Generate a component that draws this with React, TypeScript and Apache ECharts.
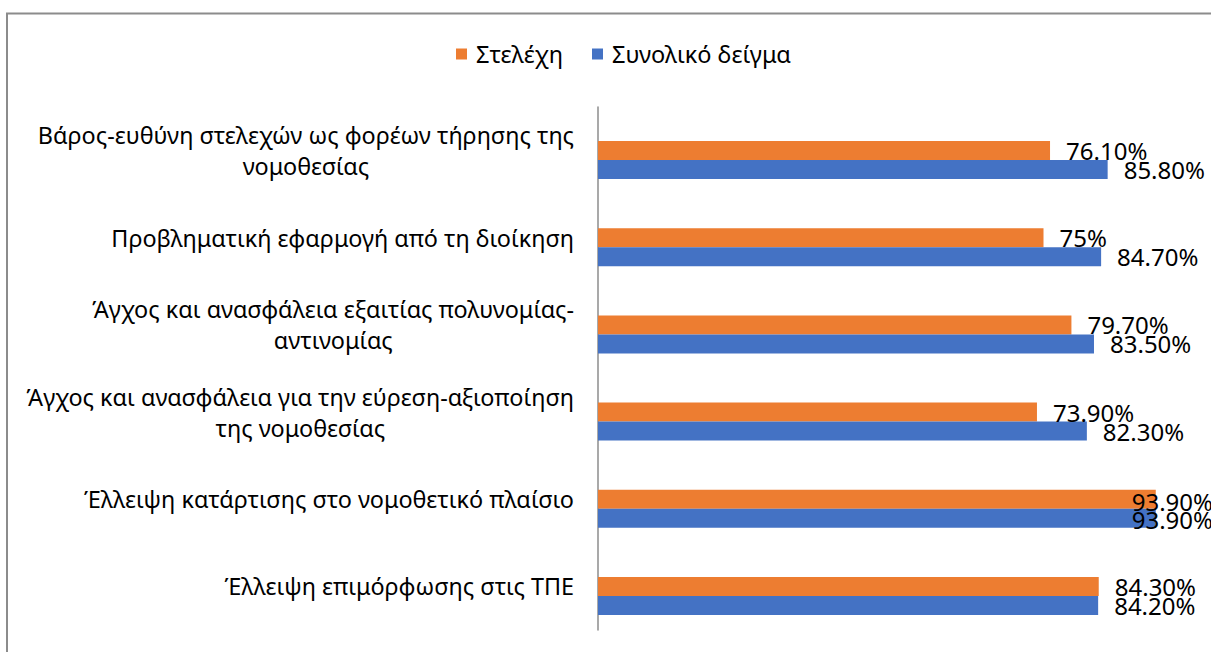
import React, { useEffect, useRef } from "react";
import * as echarts from "echarts";

const categories = [
  "Βάρος-ευθύνη στελεχών ως φορέων τήρησης της\nνομοθεσίας",
  "Προβληματική εφαρμογή από τη διοίκηση",
  "Άγχος και ανασφάλεια εξαιτίας πολυνομίας-\nαντινομίας",
  "Άγχος και ανασφάλεια για την εύρεση-αξιοποίηση\nτης νομοθεσίας",
  "Έλλειψη κατάρτισης στο νομοθετικό πλαίσιο",
  "Έλλειψη επιμόρφωσης στις ΤΠΕ",
];
const stelexh = [76.1, 75, 79.7, 73.9, 93.9, 84.3];
const synoliko = [85.8, 84.7, 83.5, 82.3, 93.9, 84.2];
const seriesNames = ["Στελέχη", "Συνολικό δείγμα"];

const W = 1211;
const H = 652;
const FONT = "'Noto Sans', sans-serif";

const fmt = (v: number) =>
  Number.isInteger(v) ? `${v}%` : `${v.toFixed(2)}%`;

export default function App() {
  const ref = useRef<HTMLDivElement>(null);
  useEffect(() => {
    if (!ref.current) return;
    const chart = echarts.init(ref.current, null, { renderer: "svg" });
    const labelCfg = (dy: number) => ({
      show: true,
      position: "right" as const,
      distance: 16,
      offset: [0, dy],
      fontFamily: FONT,
      fontSize: 24,
      color: "#000",
      formatter: (p: any) => fmt(p.value),
    });
    chart.setOption({
      animation: false,
      backgroundColor: "#fff",
      textStyle: { fontFamily: FONT },
      graphic: [
        {
          type: "rect",
          shape: { x: 7, y: 13.5, width: 1400, height: 900 },
          style: { fill: "none", stroke: "#8c8c8c", lineWidth: 2 },
          silent: true,
        },
      ],
      legend: {
        data: seriesNames,
        left: 451,
        top: 37,
        itemWidth: 11,
        itemHeight: 11,
        itemGap: 29,
        icon: "rect",
        textStyle: {
          fontFamily: FONT,
          fontSize: 23.5,
          color: "#000",
          padding: [0, 0, 0, 4],
        },
      },
      grid: { left: 598, right: 19, top: 107, bottom: 22, containLabel: false },
      xAxis: {
        type: "value",
        min: 0,
        max: 100,
        show: false,
        splitLine: { show: false },
      },
      yAxis: {
        type: "category",
        inverse: true,
        data: categories,
        axisLine: { show: true, lineStyle: { color: "#8c8c8c", width: 1.5 } },
        axisTick: { show: false },
        axisLabel: {
          margin: 24,
          align: "right",
          lineHeight: 31,
          formatter: (v: string) =>
            v
              .split("\n")
              .map((l) => `{c|${l}}`)
              .join("\n"),
          rich: {
            c: {
              align: "center",
              fontFamily: FONT,
              fontSize: 23.4,
              lineHeight: 31,
              color: "#000",
            },
          },
        },
      },
      labelLayout: (params: any) => {
        const r = params.labelRect;
        if (!r) return {};
        const maxX = W + 2 - r.width;
        if (r.x > maxX)
          return {
            x: maxX,
            y: r.y + r.height / 2,
            align: "left",
            verticalAlign: "middle",
          };
        return {};
      },
      series: [
        {
          name: "_pad",
          type: "bar",
          barWidth: 19,
          barGap: "0%",
          silent: true,
          data: categories.map(() => 0),
          itemStyle: { color: "rgba(0,0,0,0)" },
          label: { show: false },
        },
        {
          name: seriesNames[0],
          type: "bar",
          barWidth: 19,
          barGap: "0%",
          data: stelexh,
          itemStyle: { color: "#ED7D31" },
          label: labelCfg(2),
        },
        {
          name: seriesNames[1],
          type: "bar",
          barWidth: 19,
          barGap: "0%",
          data: synoliko,
          itemStyle: { color: "#4472C4" },
          label: labelCfg(1),
        },
      ],
    });
    return () => chart.dispose();
  }, []);
  return (
    <div
      ref={ref}
      style={{ position: "absolute", left: 0, top: 0, width: W, height: H }}
    />
  );
}
